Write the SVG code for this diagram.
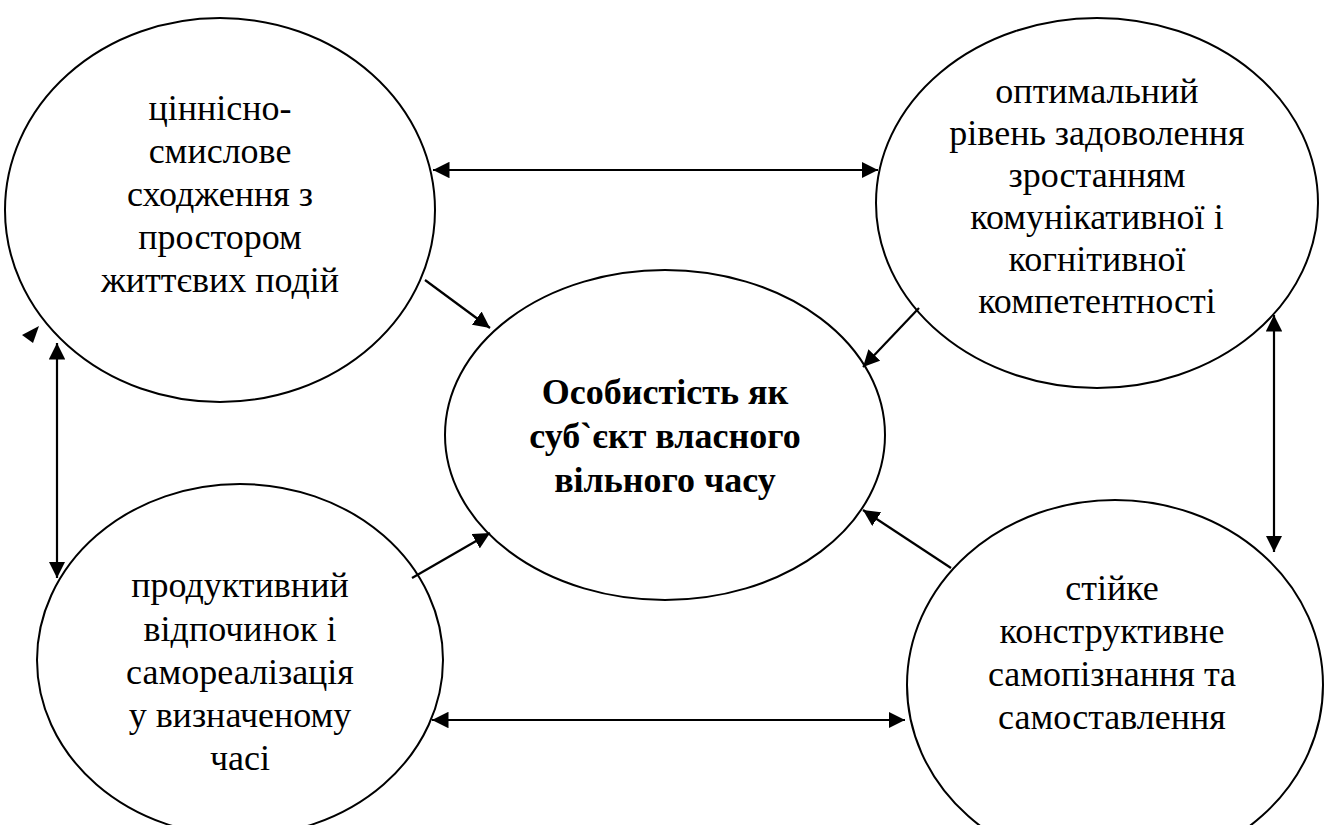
<svg xmlns="http://www.w3.org/2000/svg" width="1329" height="825" viewBox="0 0 1329 825">
<defs>
<marker id="ah" viewBox="0 0 10 10" refX="10" refY="5" markerWidth="7.5" markerHeight="7.5" markerUnits="strokeWidth" orient="auto-start-reverse">
<path d="M0,0 L10,5 L0,10 z" fill="#000"/>
</marker>
<style>
.node ellipse{fill:#fff;stroke:#000;stroke-width:2}
.node text{font-family:"Liberation Serif","Times New Roman",serif;font-size:36px;fill:#000;text-anchor:middle}
.node text.b{font-weight:bold}
.conn line{stroke:#000;stroke-width:2.2}
</style>
</defs>
<rect width="1329" height="825" fill="#fff"/>
<g id="n1" class="node">
<ellipse cx="220" cy="210" rx="215" ry="192"/>
<text x="220" y="120">ціннісно-</text>
<text x="220" y="163">смислове</text>
<text x="220" y="206">сходження з</text>
<text x="220" y="249">простором</text>
<text x="220" y="292">життєвих подій</text>
</g>
<g id="n2" class="node">
<ellipse cx="1097" cy="203" rx="221" ry="185"/>
<text x="1097" y="103">оптимальний</text>
<text x="1097" y="145">рівень задоволення</text>
<text x="1097" y="187">зростанням</text>
<text x="1097" y="229">комунікативної і</text>
<text x="1097" y="271">когнітивної</text>
<text x="1097" y="313">компетентності</text>
</g>
<g id="n3" class="node">
<ellipse cx="665" cy="435" rx="220" ry="165"/>
<text class="b" x="665" y="404">Особистість як</text>
<text class="b" x="665" y="448">суб`єкт власного</text>
<text class="b" x="665" y="492">вільного часу</text>
</g>
<g id="n4" class="node">
<ellipse cx="240" cy="660" rx="203" ry="176"/>
<text x="240" y="597">продуктивний</text>
<text x="240" y="641">відпочинок і</text>
<text x="240" y="684">самореалізація</text>
<text x="240" y="727">у визначеному</text>
<text x="240" y="770">часі</text>
</g>
<g id="n5" class="node">
<ellipse cx="1115" cy="685" rx="208" ry="185"/>
<text x="1112" y="600">стійке</text>
<text x="1112" y="643">конструктивне</text>
<text x="1112" y="686">самопізнання та</text>
<text x="1112" y="729">самоставлення</text>
</g>
<g id="connectors" class="conn">
<line x1="433" y1="170" x2="878" y2="170" marker-start="url(#ah)" marker-end="url(#ah)"/>
<line x1="432" y1="720" x2="905" y2="720" marker-start="url(#ah)" marker-end="url(#ah)"/>
<line x1="57" y1="343" x2="57" y2="578" marker-start="url(#ah)" marker-end="url(#ah)"/>
<line x1="1274" y1="315" x2="1274" y2="552" marker-start="url(#ah)" marker-end="url(#ah)"/>
<line x1="425" y1="280" x2="490" y2="328" marker-end="url(#ah)"/>
<line x1="919" y1="308" x2="863" y2="367" marker-end="url(#ah)"/>
<line x1="412" y1="578" x2="490" y2="533" marker-end="url(#ah)"/>
<line x1="951" y1="568" x2="863" y2="510" marker-end="url(#ah)"/>
<polygon points="39,326 22,335 33,343" fill="#000"/>
</g>
</svg>
